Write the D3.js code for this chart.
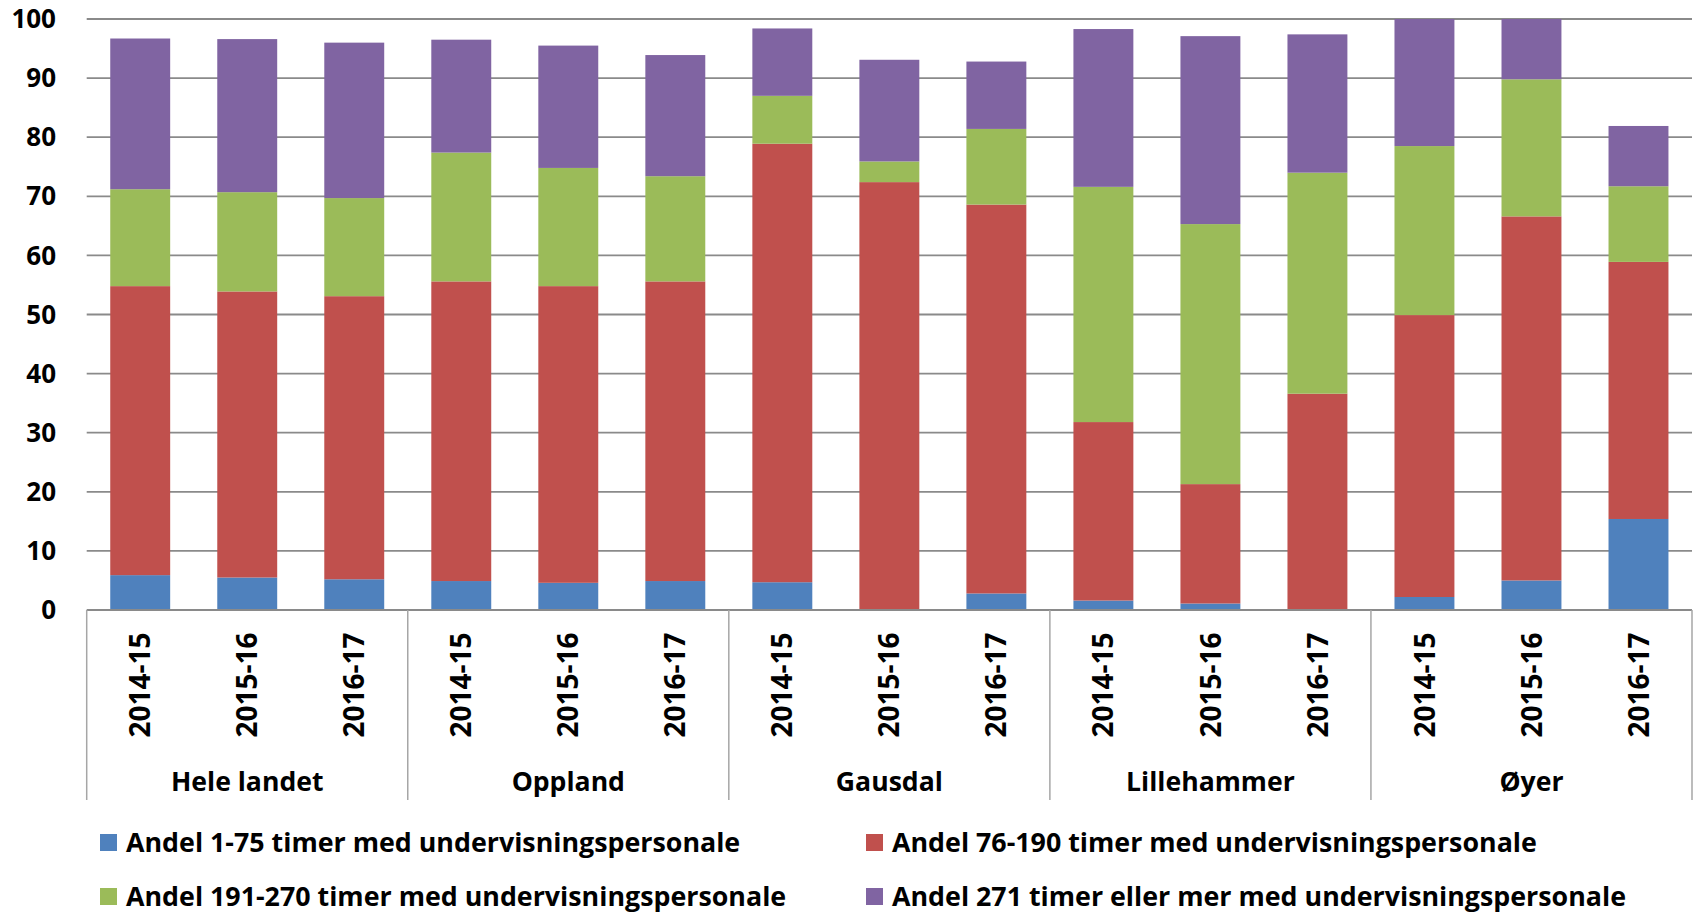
<!DOCTYPE html>
<html>
<head>
<meta charset="utf-8">
<script src="https://cdn.jsdelivr.net/npm/d3@7"></script>
<style>
  body { margin: 0; background: #fff; }
  svg { display: block; font-family: "Open Sans", sans-serif; font-weight: 700; }
</style>
</head>
<body>
<svg width="1694" height="914"></svg>
<script>
const groups = ["Hele landet", "Oppland", "Gausdal", "Lillehammer", "Øyer"];
const years = ["2014-15", "2015-16", "2016-17"];

// values per bar, ordered group by group, year by year
const andel1to75   = [5.9, 5.5, 5.2,  4.9, 4.6, 4.9,  4.7, 0.0, 2.8,  1.6, 1.1, 0.0,  2.2, 5.0, 15.4];
const andel76to190 = [48.9, 48.4, 47.9,  50.7, 50.2, 50.7,  74.2, 72.4, 65.8,  30.2, 20.2, 36.6,  47.7, 61.6, 43.5];
const andel191to270 = [16.4, 16.8, 16.6,  21.8, 20.0, 17.8,  8.1, 3.5, 12.8,  39.8, 44.0, 37.4,  28.6, 23.2, 12.8];
const andel271plus = [25.5, 25.9, 26.3,  19.1, 20.7, 20.5,  11.4, 17.2, 11.4,  26.7, 31.8, 23.4,  21.5, 10.2, 10.2];

const seriesNames = [
  "Andel 1-75 timer med undervisningspersonale",
  "Andel 76-190 timer med undervisningspersonale",
  "Andel 191-270 timer med undervisningspersonale",
  "Andel 271 timer eller mer med undervisningspersonale"
];
const colors = ["#4f81bd", "#c0504d", "#9bbb59", "#8064a2"];
const yTicks = [0, 10, 20, 30, 40, 50, 60, 70, 80, 90, 100];

const svg = d3.select("svg");

const plotLeft = 86.7, plotRight = 1692, plotTop = 19, plotBottom = 610, boxBottom = 800;

// build rows for the stack
const keys = ["a", "b", "c", "d"];
const rows = [];
groups.forEach((g, gi) => {
  years.forEach((yr, yi) => {
    const i = gi * years.length + yi;
    rows.push({
      id: g + "|" + yr, group: g, year: yr,
      a: andel1to75[i], b: andel76to190[i], c: andel191to270[i], d: andel271plus[i]
    });
  });
});

const x = d3.scaleBand()
  .domain(rows.map(d => d.id))
  .range([plotLeft, plotRight])
  .paddingInner(0.44)
  .paddingOuter(0.22);

const y = d3.scaleLinear()
  .domain([0, 100])
  .range([plotBottom, plotTop]);

// gridlines
svg.append("g")
  .selectAll("line")
  .data(yTicks.filter(t => t > 0))
  .enter()
  .append("line")
  .attr("x1", plotLeft)
  .attr("x2", plotRight)
  .attr("y1", d => y(d))
  .attr("y2", d => y(d))
  .attr("stroke", "#8a8a8a")
  .attr("stroke-width", 1.8);

// y tick labels
svg.append("g")
  .selectAll("text")
  .data(yTicks)
  .enter()
  .append("text")
  .attr("x", 56)
  .attr("y", d => y(d))
  .attr("dy", "0.35em")
  .attr("text-anchor", "end")
  .style("font-size", "26px")
  .text(d => d);

// stacked bars
const stacked = d3.stack().keys(keys)(rows);

svg.append("g")
  .selectAll("g")
  .data(stacked)
  .enter()
  .append("g")
  .attr("fill", (d, i) => colors[i])
  .selectAll("rect")
  .data(d => d)
  .enter()
  .append("rect")
  .attr("x", d => x(d.data.id))
  .attr("y", d => y(d[1]))
  .attr("width", x.bandwidth())
  .attr("height", d => y(d[0]) - y(d[1]));

// category axis line
svg.append("line")
  .attr("x1", plotLeft).attr("x2", plotRight)
  .attr("y1", plotBottom).attr("y2", plotBottom)
  .attr("stroke", "#8a8a8a")
  .attr("stroke-width", 1.8);

// group separators
const step = x.step();
const sepX = d3.range(groups.length + 1).map(i => plotLeft + i * years.length * step);
svg.append("g")
  .selectAll("line")
  .data(sepX)
  .enter()
  .append("line")
  .attr("x1", d => d).attr("x2", d => d)
  .attr("y1", plotBottom).attr("y2", boxBottom)
  .attr("stroke", "#a6a6a6")
  .attr("stroke-width", 1.5);

// year labels (rotated)
svg.append("g")
  .selectAll("text")
  .data(rows)
  .enter()
  .append("text")
  .attr("transform", d => `translate(${x(d.id) + x.bandwidth() / 2}, 685) rotate(-90)`)
  .attr("dy", "0.36em")
  .attr("text-anchor", "middle")
  .style("font-size", "28px")
  .text(d => d.year);

// group labels
svg.append("g")
  .selectAll("text")
  .data(groups)
  .enter()
  .append("text")
  .attr("x", (d, i) => (sepX[i] + sepX[i + 1]) / 2)
  .attr("y", 791)
  .attr("text-anchor", "middle")
  .style("font-size", "26.6px")
  .text(d => d);

// legend
const legendPos = [
  {x: 100, y: 852}, {x: 866, y: 852},
  {x: 100, y: 906}, {x: 866, y: 906}
];
const legend = svg.append("g")
  .selectAll("g")
  .data(seriesNames)
  .enter()
  .append("g")
  .attr("transform", (d, i) => `translate(${legendPos[i].x}, ${legendPos[i].y})`);

legend.append("rect")
  .attr("x", 0)
  .attr("y", -18)
  .attr("width", 17)
  .attr("height", 17)
  .attr("fill", (d, i) => colors[i]);

legend.append("text")
  .attr("x", 26)
  .attr("y", 0)
  .style("font-size", "26.8px")
  .text(d => d);
</script>
</body>
</html>
